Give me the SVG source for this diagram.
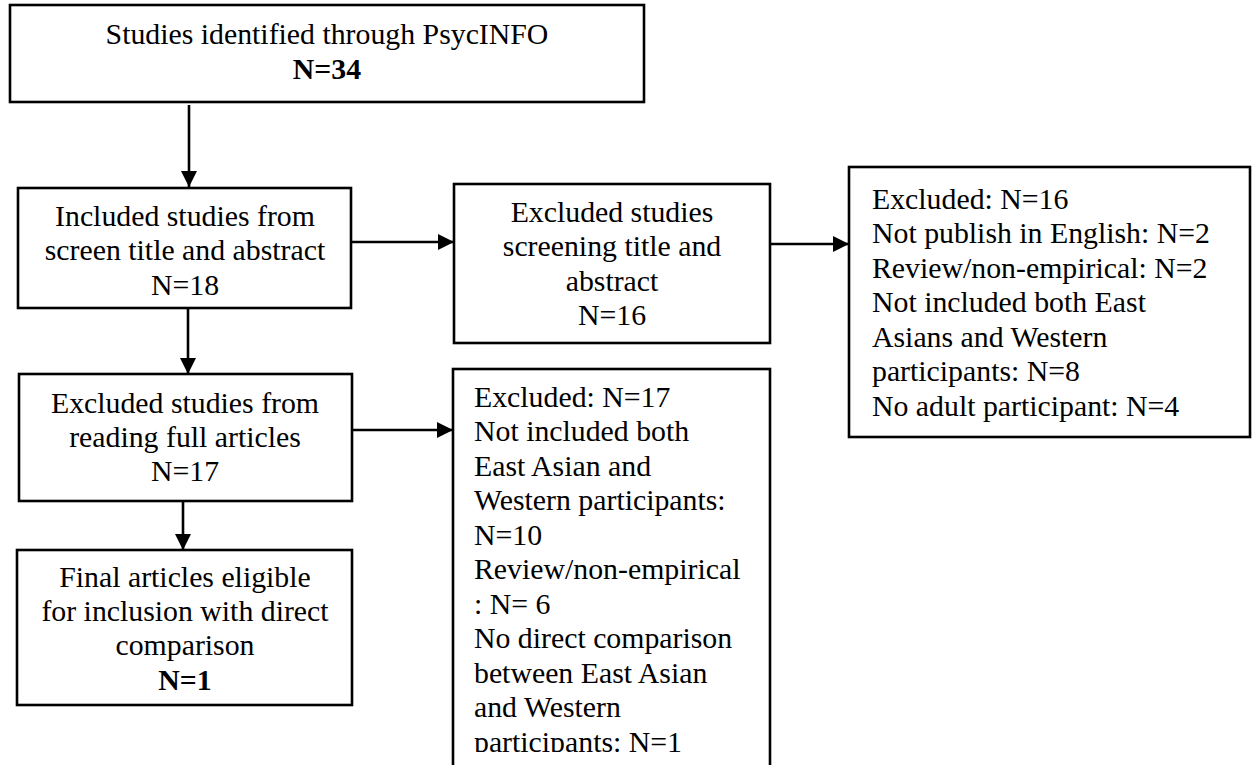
<svg xmlns="http://www.w3.org/2000/svg" width="1254" height="765" viewBox="0 0 1254 765">
  <style>
    .box { fill: #ffffff; stroke: #000000; stroke-width: 2.6; }
    .t { font-family: "Liberation Serif", "Times New Roman", serif; font-size: 29.8px; fill: #000000; }
    .c { text-anchor: middle; }
    .b { font-weight: bold; }
    .edge { stroke: #000000; stroke-width: 2.6; fill: none; marker-end: url(#head); }
  </style>
  <defs>
    <marker id="head" markerUnits="userSpaceOnUse" markerWidth="16" markerHeight="16" viewBox="0 0 16 16" refX="16" refY="8" orient="auto">
      <path d="M0,0 L16,8 L0,16 Z" fill="#000000"/>
    </marker>
    <clipPath id="clipBottom">
      <rect x="0" y="0" width="1254" height="752"/>
    </clipPath>
  </defs>
  <rect width="1254" height="765" fill="#ffffff"/>

  <g id="connectors">
    <line class="edge" x1="189" y1="105" x2="189" y2="187"/>
    <line class="edge" x1="188" y1="308" x2="188" y2="374"/>
    <line class="edge" x1="183" y1="501" x2="183" y2="550"/>
    <line class="edge" x1="351" y1="242" x2="454" y2="242"/>
    <line class="edge" x1="770" y1="244" x2="849" y2="244"/>
    <line class="edge" x1="352" y1="430" x2="453" y2="430"/>
  </g>

  <g id="identified">
    <rect class="box" x="10" y="5" width="634" height="97"/>
    <text class="t c" x="327" y="44">Studies identified through PsycINFO</text>
    <text class="t c b" x="327" y="79">N=34</text>
  </g>

  <g id="included-screen">
    <rect class="box" x="18" y="188" width="333" height="120"/>
    <text class="t c" x="185" y="226">Included studies from</text>
    <text class="t c" x="185" y="260">screen title and abstract</text>
    <text class="t c" x="185" y="295">N=18</text>
  </g>

  <g id="excluded-screen">
    <rect class="box" x="454" y="184" width="316" height="159"/>
    <text class="t c" x="612" y="222">Excluded studies</text>
    <text class="t c" x="612" y="256">screening title and</text>
    <text class="t c" x="612" y="291">abstract</text>
    <text class="t c" x="612" y="325">N=16</text>
  </g>

  <g id="excluded-screen-reasons">
    <rect class="box" x="849" y="167" width="401" height="270"/>
    <text class="t" x="872" y="209">Excluded: N=16</text>
    <text class="t" x="872" y="243">Not publish in English: N=2</text>
    <text class="t" x="872" y="278">Review/non-empirical: N=2</text>
    <text class="t" x="872" y="312">Not included both East</text>
    <text class="t" x="872" y="347">Asians and Western</text>
    <text class="t" x="872" y="381">participants: N=8</text>
    <text class="t" x="872" y="416">No adult participant: N=4</text>
  </g>

  <g id="excluded-full">
    <rect class="box" x="19" y="374" width="333" height="127"/>
    <text class="t c" x="185" y="413">Excluded studies from</text>
    <text class="t c" x="185" y="447">reading full articles</text>
    <text class="t c" x="185" y="481">N=17</text>
  </g>

  <g id="final">
    <rect class="box" x="17" y="550" width="335" height="155"/>
    <text class="t c" x="185" y="587">Final articles eligible</text>
    <text class="t c" x="185" y="621">for inclusion with direct</text>
    <text class="t c" x="185" y="655">comparison</text>
    <text class="t c b" x="185" y="690">N=1</text>
  </g>

  <g id="excluded-full-reasons">
    <rect class="box" x="453" y="369" width="317" height="420"/>
    <g clip-path="url(#clipBottom)">
      <text class="t" x="474" y="407">Excluded: N=17</text>
      <text class="t" x="474" y="441">Not included both</text>
      <text class="t" x="474" y="476">East Asian and</text>
      <text class="t" x="474" y="510">Western participants:</text>
      <text class="t" x="474" y="545">N=10</text>
      <text class="t" x="474" y="579">Review/non-empirical</text>
      <text class="t" x="474" y="614">: N= 6</text>
      <text class="t" x="474" y="648">No direct comparison</text>
      <text class="t" x="474" y="683">between East Asian</text>
      <text class="t" x="474" y="717">and Western</text>
      <text class="t" x="474" y="752">participants: N=1</text>
    </g>
  </g>
</svg>
